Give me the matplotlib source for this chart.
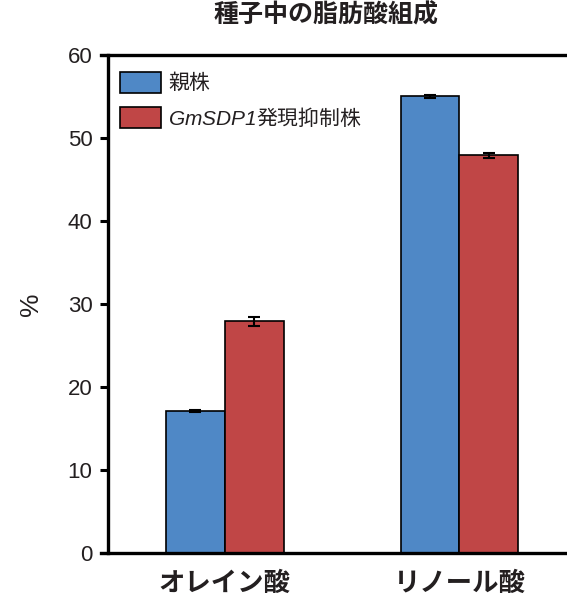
import numpy as np
import matplotlib
matplotlib.use("Agg")
import matplotlib.pyplot as plt

plt.rcParams['font.family'] = ['Liberation Sans', 'Noto Sans CJK JP', 'DejaVu Sans']
plt.rcParams['mathtext.fontset'] = 'custom'
# italic gene name, digits included, goes through the sf slot
plt.rcParams['mathtext.sf'] = 'Liberation Sans:italic'
plt.rcParams['mathtext.rm'] = 'Noto Sans CJK JP'

# fatty acid composition of seeds (%)
categories = ['オレイン酸', 'リノール酸']
series_names = ['親株', r'$\mathsf{GmSDP1}$発現抑制株']
parent_vals = [17.1, 55.0]
parent_err = [0.12, 0.15]
knockdown_vals = [27.9, 47.9]
knockdown_err = [0.55, 0.35]
yticks = [0, 10, 20, 30, 40, 50, 60]

blue = '#4f88c6'
red = '#c04646'
ink = '#231f20'

fig = plt.figure(figsize=(5.67, 5.99), dpi=100)
ax = fig.add_axes([0.19, 0.0768, 0.815, 0.8314])

x = np.arange(len(categories))
w = 0.251
ax.bar(x - w / 2, parent_vals, w, yerr=parent_err, color=blue, edgecolor='black',
       linewidth=1.2, capsize=4, error_kw=dict(elinewidth=1.5, capthick=1.5),
       label=series_names[0], zorder=2)
ax.bar(x + w / 2, knockdown_vals, w, yerr=knockdown_err, color=red, edgecolor='black',
       linewidth=1.2, capsize=4, error_kw=dict(elinewidth=1.5, capthick=1.5),
       label=series_names[1], zorder=2)

ax.set_xlim(-0.498, 1.47)
ax.set_ylim(0, 60)
ax.set_yticks(yticks)
ax.set_xticks(x)
ax.set_xticklabels(categories, fontsize=19, fontweight='bold', color=ink,
                   family=['Noto Sans CJK JP', 'DejaVu Sans'])
ax.tick_params(axis='x', length=0, pad=12)
ax.tick_params(axis='y', length=6, width=2.2, labelsize=16, pad=5, labelcolor=ink)

for s in ['left', 'top', 'bottom']:
    ax.spines[s].set_linewidth(2.4)
    ax.spines[s].set_color('black')
ax.spines['right'].set_visible(False)
# top and bottom frame lines reach out to the tick tips
ax.spines['top'].set_bounds(-0.498 - 0.03, 1.47)
ax.spines['bottom'].set_bounds(-0.498 - 0.03, 1.47)
ax.spines['top'].set_clip_on(False)
ax.spines['bottom'].set_clip_on(False)

ax.set_ylabel('%', fontsize=19, color=ink, labelpad=18)

fig.suptitle('種子中の脂肪酸組成', fontsize=18, fontweight='bold', color=ink, y=0.995,
             x=0.575, family=['Noto Sans CJK JP', 'DejaVu Sans'])

leg = ax.legend(loc='upper left', bbox_to_anchor=(-0.006, 0.996), frameon=False,
                handlelength=2.0, handleheight=1.2, handletextpad=0.35,
                labelspacing=0.6, borderaxespad=0.3,
                prop=dict(family=['Noto Sans CJK JP', 'DejaVu Sans'], size=15))
for t in leg.get_texts():
    t.set_color(ink)

fig.savefig('out.png', dpi=100)
